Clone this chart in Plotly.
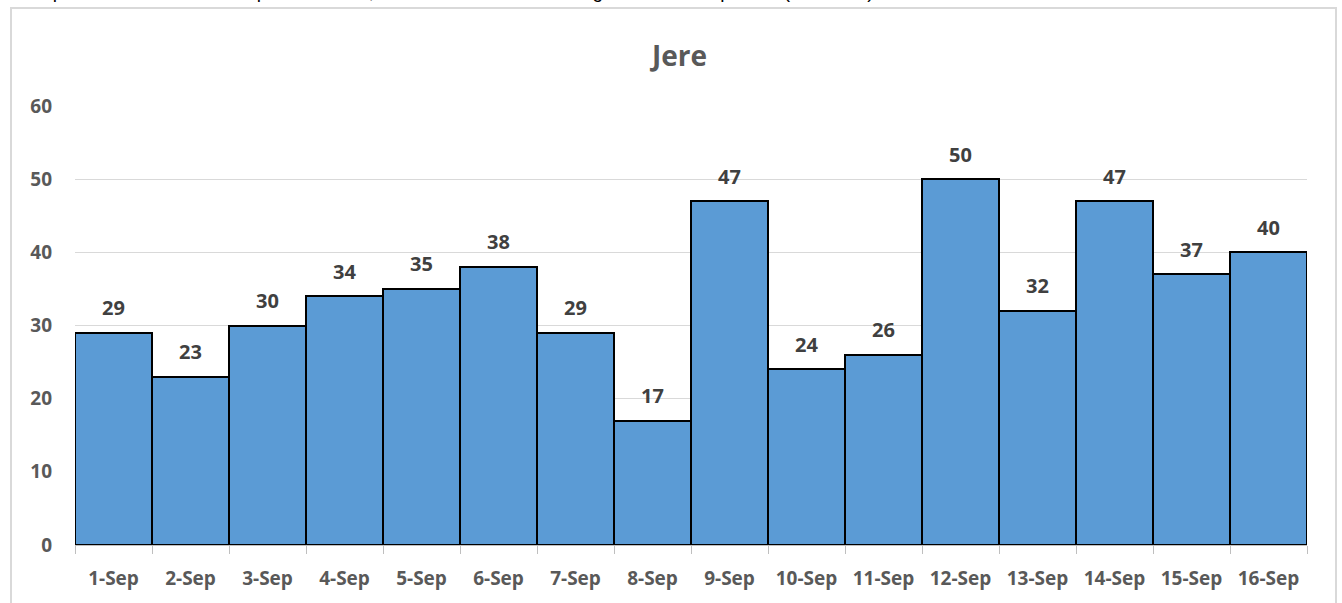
import plotly.graph_objects as go

categories = ["1-Sep", "2-Sep", "3-Sep", "4-Sep", "5-Sep", "6-Sep", "7-Sep", "8-Sep",
              "9-Sep", "10-Sep", "11-Sep", "12-Sep", "13-Sep", "14-Sep", "15-Sep", "16-Sep"]
values = [29, 23, 30, 34, 35, 38, 29, 17, 47, 24, 26, 50, 32, 47, 37, 40]
y_ticks = [0, 10, 20, 30, 40, 50, 60]
title_text = "Jere"
top_text = "the LGA reported a total of 563 suspected cases, with 4 deaths from 1st August to 16th Sep 2020 (see table)"

W, H = 1342, 603
L, R, T, B = 75, 35, 106, 58
pw, ph = W - L - R, H - T - B

def px(x):
    return (x - L) / pw

def py(y):
    return (H - B - y) / ph

grey = "#595959"
font = "Open Sans, Liberation Sans, Arial, sans-serif"

fig = go.Figure(go.Bar(
    x=categories, y=values,
    marker=dict(color="#5B9BD5", line=dict(color="black", width=2)),
    hoverinfo="x+y",
))

for c, v in zip(categories, values):
    fig.add_annotation(x=c, y=v, text="<b>%d</b>" % v, showarrow=False,
                       yanchor="middle", yshift=25,
                       font=dict(size=20, color="#404040", family=font))

fig.update_layout(
    width=W, height=H,
    margin=dict(l=L, r=R, t=T, b=B),
    paper_bgcolor="white", plot_bgcolor="white",
    bargap=0, showlegend=False,
    font=dict(family=font),
)
fig.update_xaxes(
    type="category", showgrid=False, showline=True, linecolor="#BFBFBF", linewidth=1,
    ticks="outside", tickson="boundaries", ticklen=8, tickcolor="#BFBFBF",
    tickfont=dict(size=19, color=grey, family=font, weight="bold"),
    ticklabelstandoff=16,
    range=[-0.5, len(categories) - 0.5],
)
fig.update_yaxes(
    range=[0, 60], tickvals=y_ticks, showgrid=True, gridcolor="#D9D9D9", gridwidth=1,
    zeroline=False, showline=False, ticks="", ticklabelstandoff=22,
    tickfont=dict(size=19, color=grey, family=font, weight="bold"),
)

# chart border
fig.add_shape(type="rect", xref="paper", yref="paper",
              x0=px(11), x1=px(1336), y0=py(H + 20), y1=py(8),
              line=dict(color="#D9D9D9", width=2), fillcolor="rgba(0,0,0,0)", layer="below")

fig.add_annotation(text="<b>" + title_text + "</b>", xref="paper", yref="paper",
                   x=px(678), y=py(55), showarrow=False, yanchor="middle",
                   font=dict(size=28, color=grey, family=font))

fig.add_annotation(text=top_text, xref="paper", yref="paper", xanchor="left", yanchor="bottom",
                   x=px(-40), y=py(4), showarrow=False,
                   font=dict(size=19, color="black", family="Liberation Sans, Arial, sans-serif"))

fig.write_html("out.html", config={"displayModeBar": False},
               post_script="document.body.style.margin='0px';document.body.style.padding='0px';")
